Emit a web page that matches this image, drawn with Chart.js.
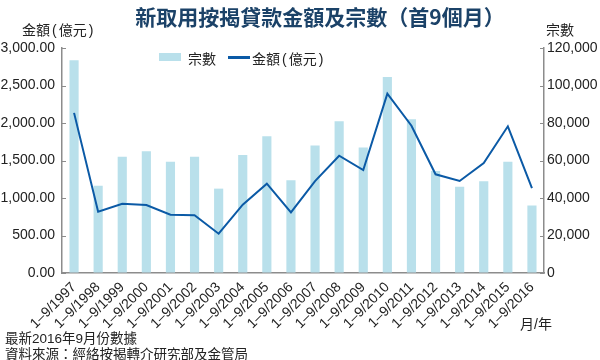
<!DOCTYPE html>
<html>
<head>
<meta charset="utf-8">
<script src="https://cdn.jsdelivr.net/npm/chart.js@4"></script>
<style>
  body { margin: 0; background: #fff; }
  #wrap { position: relative; width: 600px; height: 360px; font-family: "Liberation Sans", "Noto Sans CJK TC", sans-serif; color: #222; }
  #wrap canvas { position: absolute; left: 0; top: 0; }
  .txt { position: absolute; white-space: nowrap; }
  .par { margin: 0 2px; }
  #titre { left: 0; width: 640px; top: 1px; text-align: center; font-size: 21px; font-weight: bold; color: #1b4268; font-family: "Noto Sans CJK TC", sans-serif; }
  .legende-boite { position: absolute; }
</style>
</head>
<body>
<div id="wrap">
  <canvas id="graphe" width="600" height="360"></canvas>
  <div class="txt" id="titre">新取用按揭貸款金額及宗數（首9個月）</div>
  <div class="txt" style="left:22px; top:19px; font-size:14px;">金額<span class="par">(</span>億元<span class="par">)</span></div>
  <div class="txt" style="left:546px; top:19px; font-size:14px;">宗數</div>
  <div class="legende-boite" style="left:159px; top:53px; width:22px; height:8px; background:#b9e0eb;"></div>
  <div class="txt" style="left:188px; top:48px; font-size:14px;">宗數</div>
  <div class="legende-boite" style="left:228px; top:56px; width:22px; height:2.5px; background:#0b5aa6;"></div>
  <div class="txt" style="left:252px; top:48px; font-size:14px;">金額<span class="par">(</span>億元<span class="par">)</span></div>
  <div class="txt" style="left:520px; top:313px; font-size:14px;">月/年</div>
  <div class="txt" style="left:5px; top:327px; font-size:13.5px;">最新2016年9月份數據</div>
  <div class="txt" style="left:5px; top:343px; font-size:13.5px;">資料來源：經絡按揭轉介研究部及金管局</div>
</div>
<script>
// données
const annees = ["1997", "1998", "1999", "2000", "2001", "2002", "2003", "2004", "2005", "2006",
  "2007", "2008", "2009", "2010", "2011", "2012", "2013", "2014", "2015", "2016"];
const categories = annees.map((a) => "1–9/" + a);

const nbPrets = [113500, 46500, 62000, 65000, 59400, 62000, 45000, 63000, 73000, 49500,
  68000, 81000, 67000, 104500, 82000, 54400, 46000, 49000, 59400, 36000];

const montants = [2135, 818, 924, 907, 778, 769, 524, 911, 1191, 809,
  1225, 1564, 1373, 2391, 1964, 1316, 1227, 1467, 1956, 1133];

const ticksGauche = ["0.00", "500.00", "1,000.00", "1,500.00", "2,000.00", "2,500.00", "3,000.00"];
const ticksDroite = ["0", "20,000", "40,000", "60,000", "80,000", "100,000", "120,000"];

const gris = "#8c8c8c";

// petits traits vers l'intérieur sur les deux axes verticaux
const traitsInterieurs = {
  id: "traitsInterieurs",
  afterDraw(chart) {
    const { ctx, chartArea, scales } = chart;
    ctx.save();
    ctx.strokeStyle = gris;
    ctx.lineWidth = 1;
    scales.y.ticks.forEach((t) => {
      const py = Math.round(scales.y.getPixelForValue(t.value)) + 0.5;
      ctx.beginPath(); ctx.moveTo(chartArea.left, py); ctx.lineTo(chartArea.left + 4, py); ctx.stroke();
    });
    scales.y1.ticks.forEach((t) => {
      const py = Math.round(scales.y1.getPixelForValue(t.value)) + 0.5;
      ctx.beginPath(); ctx.moveTo(chartArea.right - 4, py); ctx.lineTo(chartArea.right, py); ctx.stroke();
    });
    ctx.restore();
  },
};

const police = { family: "'Liberation Sans', 'Noto Sans CJK TC', sans-serif", size: 14 };

new Chart(document.getElementById("graphe"), {
  type: "bar",
  data: {
    labels: categories,
    datasets: [
      {
        type: "line",
        label: "金額(億元)",
        data: montants,
        yAxisID: "y",
        borderColor: "#0b5aa6",
        borderWidth: 2,
        pointRadius: 0,
        tension: 0,
        order: 0,
      },
      {
        type: "bar",
        label: "宗數",
        data: nbPrets,
        yAxisID: "y1",
        backgroundColor: "#b9e0eb",
        categoryPercentage: 1,
        barPercentage: 0.38,
        order: 1,
      },
    ],
  },
  options: {
    responsive: false,
    animation: false,
    layout: { padding: { top: 48, bottom: 0, left: 0, right: 0 } },
    plugins: { legend: { display: false }, tooltip: { enabled: false } },
    scales: {
      x: {
        grid: { display: false, drawTicks: false },
        border: { color: gris, width: 1.5 },
        ticks: { color: "#222", font: { ...police, size: 14 }, maxRotation: 45, minRotation: 45, autoSkip: false, padding: 6 },
        afterFit(s) { s.height = 87; },
      },
      y: {
        position: "left",
        min: 0, max: 3000,
        grid: { drawOnChartArea: false, drawTicks: false },
        border: { color: gris, width: 1.5 },
        ticks: { stepSize: 500, color: "#222", font: police, padding: 7,
          callback: (v, i) => ticksGauche[i] },
        afterFit(s) { s.width = 62; },
      },
      y1: {
        position: "right",
        min: 0, max: 120000,
        grid: { drawOnChartArea: false, drawTicks: false },
        border: { color: gris, width: 1.5 },
        ticks: { stepSize: 20000, color: "#222", font: police, padding: 3,
          callback: (v, i) => ticksDroite[i] },
        afterFit(s) { s.width = 56; },
      },
    },
  },
  plugins: [traitsInterieurs],
});
</script>
</body>
</html>
